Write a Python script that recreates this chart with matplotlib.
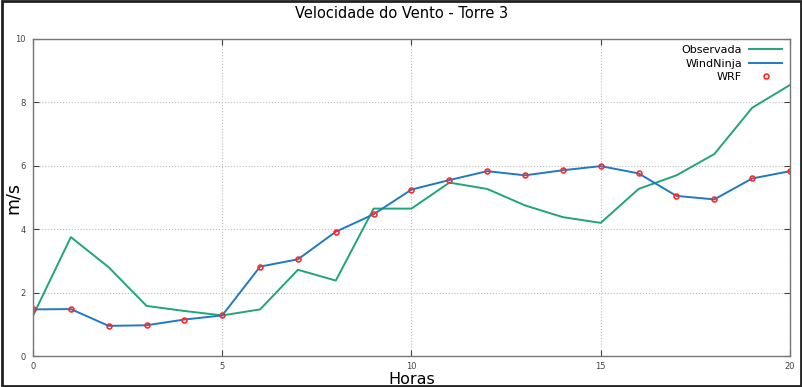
import numpy as np
import matplotlib.pyplot as plt
from matplotlib.patches import Rectangle

# dados
horas = list(range(21))
observada = [1.27, 3.75, 2.8, 1.58, 1.42, 1.28, 1.47, 2.72, 2.38, 4.65, 4.65,
             5.47, 5.27, 4.75, 4.38, 4.2, 5.27, 5.7, 6.37, 7.83, 8.55]
windninja = [1.47, 1.48, 0.95, 0.97, 1.15, 1.28, 2.82, 3.05, 3.92, 4.47, 5.25,
             5.55, 5.83, 5.7, 5.86, 5.99, 5.76, 5.05, 4.94, 5.6, 5.83]
wrf = windninja

fig = plt.figure(figsize=(8.03, 3.87), dpi=100)
ax = fig.add_axes([33 / 803, 1 - 356 / 387, (790 - 33) / 803, (356 - 39) / 387])

ax.plot(horas, observada, color='#20a57a', lw=1.4, label='Observada')
ax.plot(horas, windninja, color='#1f7ac2', lw=1.4, label='WindNinja')
ax.plot(horas, wrf, 'o', mfc='none', mec='#ff2a2a', ms=3.5, mew=1.2, label='WRF')

ax.set_xlim(0, 20)
ax.set_ylim(0, 10)
ax.set_xticks([0, 5, 10, 15, 20])
ax.set_yticks([0, 2, 4, 6, 8, 10])
ax.grid(True, ls=':', color='#bbbbbb', lw=0.8)
ax.tick_params(direction='in', labelsize=6, colors='#444444', top=True, right=True,
               length=4)
ax.tick_params(axis='x', pad=4)
ax.tick_params(axis='y', pad=5)
for s in ax.spines.values():
    s.set_color('#777777')
    s.set_linewidth(1)

fig.text(0.5, 1 - 14 / 387, 'Velocidade do Vento - Torre 3', fontsize=10.5,
         ha='center', va='center')
fig.text(412 / 803, 1 - 379 / 387, 'Horas', fontsize=11.5, ha='center', va='center')
fig.text(13 / 803, 1 - 198 / 387, 'm/s', fontsize=12.5, ha='center', va='center',
         rotation=90)

ax.legend(loc='upper right', frameon=False, markerfirst=False, fontsize=8,
          handlelength=3, handletextpad=0.6, labelspacing=0.3,
          bbox_to_anchor=(1.0, 1.005), borderaxespad=0.3)

fig.add_artist(Rectangle((0.002, 0.003), 0.996, 0.994, transform=fig.transFigure,
                         fill=False, ec='#222222', lw=2))

plt.savefig('out.png', dpi=100)
